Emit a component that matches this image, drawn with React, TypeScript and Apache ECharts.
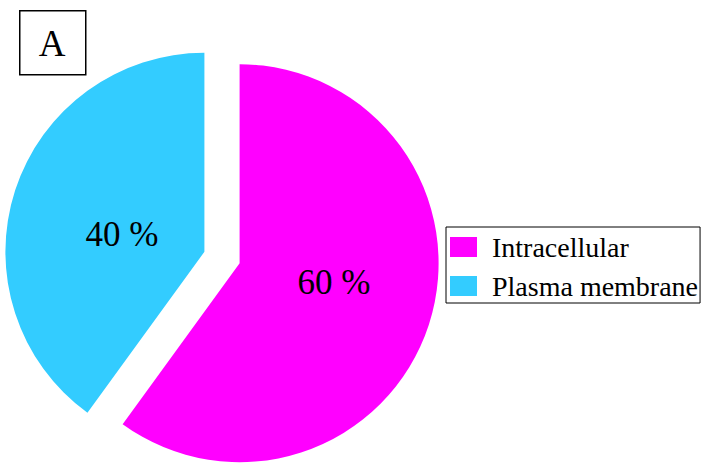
import React, { useEffect, useRef } from "react";
import * as echarts from "echarts";

const categories = ["Intracellular", "Plasma membrane"];
const values = [60, 40];
const colors = ["#FF00FF", "#33CCFF"];
const panelLabel = "A";

export default function App() {
  const ref = useRef<HTMLDivElement>(null);
  useEffect(() => {
    document.body.style.margin = "0";
    const chart = echarts.init(ref.current!, null, { renderer: "svg" });
    const font = "Liberation Serif";
    const labelShift = [
      { dx: -3, dy: -12 },
      { dx: 15, dy: 14 },
    ];
    chart.setOption({
      animation: false,
      backgroundColor: "#ffffff",
      legend: {
        orient: "vertical",
        left: 446,
        top: 227,
        data: categories,
        borderColor: "#000000",
        borderWidth: 1,
        padding: [6, 2, 3, 4],
        itemWidth: 27,
        itemHeight: 20,
        itemGap: 11,
        icon: "rect",
        selectedMode: false,
        textStyle: {
          fontFamily: font,
          fontSize: 28,
          color: "#000000",
          lineHeight: 28,
          padding: [0, 0, 0, 10],
        },
      },
      graphic: [
        {
          type: "rect",
          left: 19,
          top: 10,
          shape: { width: 66, height: 64 },
          style: { fill: "#ffffff", stroke: "#000000", lineWidth: 1.5 },
        },
        {
          type: "text",
          x: 52,
          y: 43,
          style: {
            text: panelLabel,
            fontFamily: font,
            fontSize: 37,
            fill: "#000000",
            align: "center",
            verticalAlign: "middle",
          },
        },
      ],
      series: [
        {
          type: "pie",
          center: [222, 257.5],
          radius: 199,
          startAngle: 90,
          clockwise: true,
          selectedMode: "multiple",
          selectedOffset: 18.5,
          silent: true,
          label: {
            show: true,
            position: "inside",
            formatter: "{c} %",
            fontFamily: font,
            fontSize: 35,
            color: "#000000",
          },
          labelLine: { show: false },
          labelLayout: (p: any) => labelShift[p.dataIndex],
          itemStyle: { borderWidth: 0 },
          emphasis: { disabled: true },
          data: categories.map((name, i) => ({
            name,
            value: values[i],
            selected: true,
            itemStyle: { color: colors[i] },
          })),
        },
      ],
    });
    return () => chart.dispose();
  }, []);
  return <div ref={ref} style={{ width: 708, height: 468 }} />;
}
